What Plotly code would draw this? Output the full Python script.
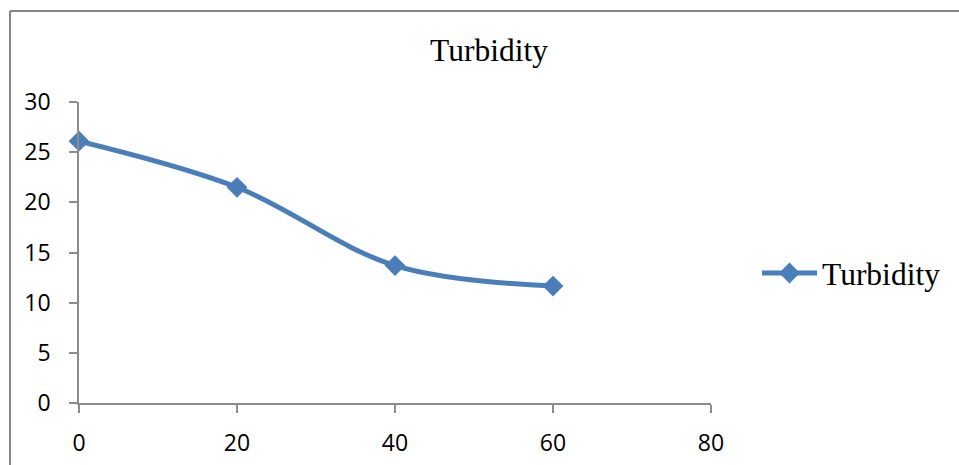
import plotly.graph_objects as go

x_vals = [0, 20, 40, 60]
turbidity = [26.1, 21.5, 13.7, 11.65]
x_ticks = [0, 20, 40, 60, 80]
y_ticks = [0, 5, 10, 15, 20, 25, 30]
series_name = "Turbidity"
title_text = "Turbidity"

W, H = 959, 465
L, R, T, B = 79, 248, 102, 62
pw = W - L - R
ph = H - T - B

fig = go.Figure()
fig.add_trace(go.Scatter(
    x=x_vals, y=turbidity, name=series_name, mode="lines+markers",
    line=dict(color="#4A7EBB", width=5, shape="spline", smoothing=1),
    marker=dict(symbol="diamond", size=16, color="#4A7EBB"),
    cliponaxis=False,
))

axis_common = dict(
    showgrid=False, zeroline=False, showline=True, linecolor="#8C8C8C", linewidth=1.5,
    ticks="outside", ticklen=8, tickcolor="#8C8C8C", tickwidth=1.5, automargin=False,
    tickfont=dict(family="Open Sans", size=23, color="#000000"),
)
fig.update_xaxes(range=[0, 80], tickvals=x_ticks, ticklabelstandoff=11, **axis_common)
fig.update_yaxes(range=[0, 30], tickvals=y_ticks, ticklabelstandoff=14, **axis_common)

# frame lines (left and top)
fx = lambda px: (px - L) / pw
fy = lambda py: (H - B - py) / ph
fig.add_shape(type="line", xref="paper", yref="paper", x0=fx(10), x1=fx(959), y0=fy(11), y1=fy(11),
              line=dict(color="#868686", width=2))
fig.add_shape(type="line", xref="paper", yref="paper", x0=fx(10), x1=fx(10), y0=fy(11), y1=fy(465),
              line=dict(color="#868686", width=2))

fig.update_layout(
    width=W, height=H,
    margin=dict(l=L, r=R, t=T, b=B, autoexpand=False),
    paper_bgcolor="white", plot_bgcolor="white",
    title=dict(text=title_text, x=fx(489), xref="paper", xanchor="center",
               y=1 - 50 / H, yanchor="middle",
               font=dict(family="Liberation Serif", size=31.5, color="#000000")),
    legend=dict(x=fx(757), y=fy(273), xanchor="left", yanchor="middle",
                itemwidth=55,
                font=dict(family="Liberation Serif", size=31.5, color="#000000"),
                bgcolor="rgba(0,0,0,0)"),
    showlegend=True,
)

fig.write_html("out.html")
